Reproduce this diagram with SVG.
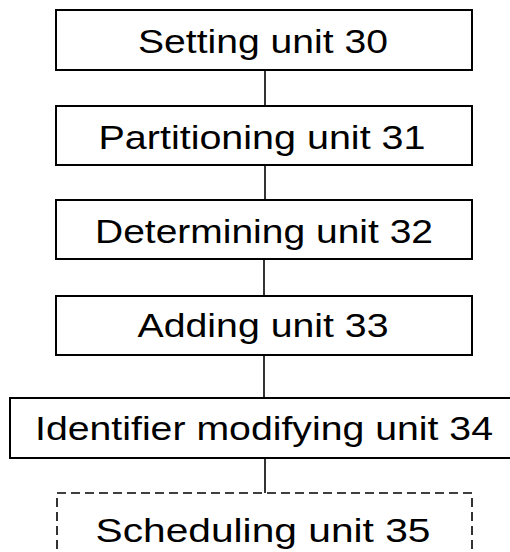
<svg xmlns="http://www.w3.org/2000/svg" width="510" height="552" viewBox="0 0 510 552">
<style>
.box{fill:#fff;stroke:#000;stroke-width:2}
.dash{fill:#fff;stroke:#000;stroke-width:1.6;stroke-dasharray:9 5}
.lbl{font-family:"Liberation Sans",Arial,sans-serif;font-size:33px;fill:#000;text-anchor:middle}
.conn{stroke:#000;stroke-width:1.6;fill:none}
</style>
<rect width="510" height="552" fill="#fff"/>
<g id="connectors">
<line class="conn" x1="265" y1="70" x2="265" y2="106"/>
<line class="conn" x1="265" y1="165" x2="265" y2="200"/>
<line class="conn" x1="264" y1="259" x2="264" y2="296"/>
<line class="conn" x1="264" y1="355" x2="264" y2="398"/>
<line class="conn" x1="265" y1="458" x2="265" y2="493"/>
</g>
<g id="n30"><rect class="box" x="56" y="10" width="416" height="60"/><text class="lbl" x="263" y="53" textLength="250" lengthAdjust="spacingAndGlyphs">Setting unit 30</text></g>
<g id="n31"><rect class="box" x="56" y="106" width="416" height="59"/><text class="lbl" x="262" y="149" textLength="327" lengthAdjust="spacingAndGlyphs">Partitioning unit 31</text></g>
<g id="n32"><rect class="box" x="56" y="200" width="416" height="59"/><text class="lbl" x="264" y="243" textLength="338" lengthAdjust="spacingAndGlyphs">Determining unit 32</text></g>
<g id="n33"><rect class="box" x="56" y="296" width="416" height="59"/><text class="lbl" x="263" y="337" textLength="251" lengthAdjust="spacingAndGlyphs">Adding unit 33</text></g>
<g id="n34"><rect class="box" x="10" y="398" width="510" height="60"/><text class="lbl" x="264" y="440" textLength="458" lengthAdjust="spacingAndGlyphs">Identifier modifying unit 34</text></g>
<g id="n35"><rect class="dash" x="57" y="493" width="415" height="75"/><text class="lbl" x="263" y="542" textLength="335" lengthAdjust="spacingAndGlyphs">Scheduling unit 35</text></g>
</svg>
